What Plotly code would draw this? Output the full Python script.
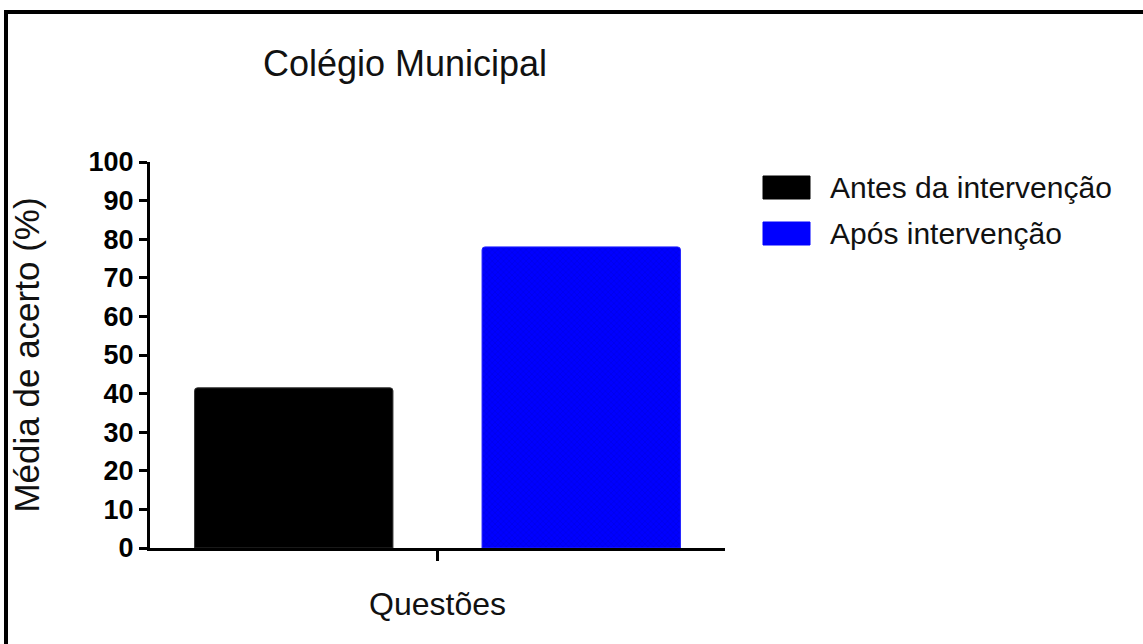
import plotly.graph_objects as go

# ---- data ----
categories = ["Questões"]
series_names = ["Antes da intervenção", "Após intervenção"]
antes_values = [41.5]
apos_values = [78.0]
y_ticks = [0, 10, 20, 30, 40, 50, 60, 70, 80, 90, 100]
chart_title = "Colégio Municipal"
y_title = "Média de acerto (%)"
x_title = "Questões"

# ---- layout geometry (pixels) ----
W, H = 1143, 644
L, R, T, B = 150, 725, 162, 548   # plot area


def px(xp):
    return (xp - L) / (R - L)


def py(yp):
    return (B - yp) / (B - T)


FONT = "Arial, Liberation Sans, sans-serif"

fig = go.Figure()
fig.add_trace(go.Bar(
    x=categories, y=antes_values, name=series_names[0],
    marker=dict(color="#000000", line=dict(color="#333333", width=1), cornerradius=3),
    showlegend=False,
))
fig.add_trace(go.Bar(
    x=categories, y=apos_values, name=series_names[1],
    marker=dict(color="#0000FF", line=dict(color="#2222FF", width=1), cornerradius=3,
                pattern=dict(shape="x", bgcolor="#0000FF", fgcolor="#0000C8",
                             size=4, solidity=0.3)),
    showlegend=False,
))

shapes = []
annotations = []
# frame lines (top and left, as in reference crop)
shapes.append(dict(type="line", xref="paper", yref="paper",
                   x0=px(4), x1=px(W + 5), y0=py(12), y1=py(12),
                   line=dict(color="black", width=4)))
shapes.append(dict(type="line", xref="paper", yref="paper",
                   x0=px(6), x1=px(6), y0=py(10), y1=py(H + 5),
                   line=dict(color="black", width=4)))

# custom legend with large swatches
legend_colors = ["#000000", "#0000FF"]
legend_rows = [(176, 199), (222, 245)]
for name, col, (y0, y1) in zip(series_names, legend_colors, legend_rows):
    shapes.append(dict(type="rect", xref="paper", yref="paper",
                       x0=px(763), x1=px(810), y0=py(y1), y1=py(y0),
                       fillcolor=col, line=dict(color=col, width=1)))
    annotations.append(dict(xref="paper", yref="paper", x=px(828), y=py((y0 + y1) / 2),
                            text=name, showarrow=False, xanchor="left", yanchor="middle",
                            font=dict(family=FONT, size=30, color="#111111")))

fig.update_layout(
    width=W, height=H,
    margin=dict(l=L, r=W - R, t=T, b=H - B, pad=0),
    paper_bgcolor="white", plot_bgcolor="white",
    barmode="group", bargap=0.0, bargroupgap=0.31,
    title=dict(text=chart_title, xref="paper", x=px(405), xanchor="center",
               yref="container", y=1 - 63 / H, yanchor="middle",
               font=dict(family=FONT, size=36, color="#111111")),
    xaxis=dict(showline=True, linecolor="black", linewidth=3,
               ticks="outside", ticklen=10, tickwidth=3, tickcolor="black",
               showticklabels=False, showgrid=False, zeroline=False,
               title=dict(text=x_title, standoff=33,
                          font=dict(family=FONT, size=32, color="#111111"))),
    yaxis=dict(range=[0, 100], tickvals=y_ticks, showline=True, linecolor="black",
               linewidth=3, ticks="outside", ticklen=8, tickwidth=3, tickcolor="black",
               showgrid=False, zeroline=False,
               tickfont=dict(family=FONT, size=27, color="black", weight="bold"),
               title=dict(text=y_title, standoff=39,
                          font=dict(family=FONT, size=35, color="#111111"))),
    shapes=shapes,
    annotations=annotations,
    showlegend=False,
)

fig.write_html("out.html", config={"displayModeBar": False},
               post_script="document.body.style.margin='0';document.body.style.padding='0';")
